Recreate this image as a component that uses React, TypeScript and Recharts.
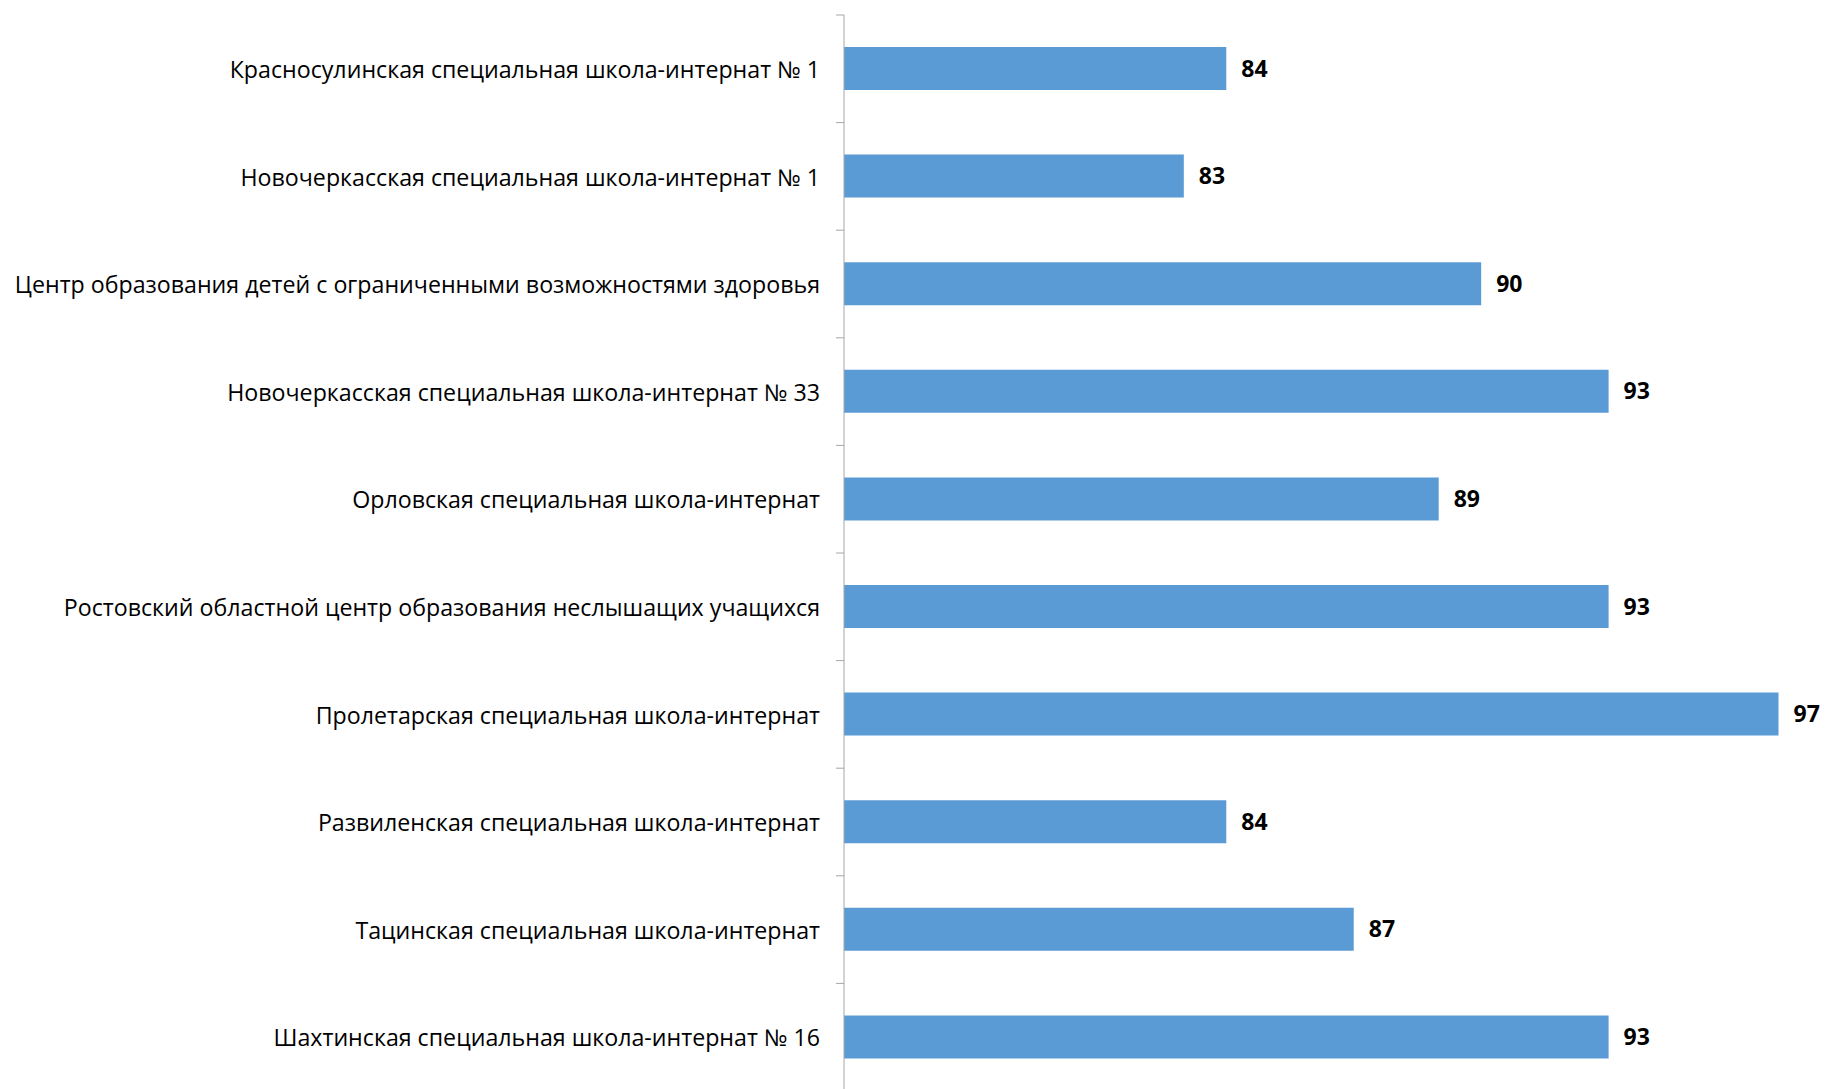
import React from "react";
import { BarChart, Bar, XAxis, YAxis, LabelList } from "recharts";

const categories = [
  "Красносулинская специальная школа-интернат № 1",
  "Новочеркасская специальная школа-интернат № 1",
  "Центр образования детей с ограниченными возможностями здоровья",
  "Новочеркасская специальная школа-интернат № 33",
  "Орловская специальная школа-интернат",
  "Ростовский областной центр образования неслышащих учащихся",
  "Пролетарская специальная школа-интернат",
  "Развиленская специальная школа-интернат",
  "Тацинская специальная школа-интернат",
  "Шахтинская специальная школа-интернат № 16",
];
const values = [84, 83, 90, 93, 89, 93, 97, 84, 87, 93];

const data = categories.map((name, i) => ({ name, value: values[i] }));

const TICK_MARGIN = 16;
const TICK_SIZE = 8;
const FONT = "'Open Sans', 'Noto Sans', sans-serif";

const CatTick = (props: any) => {
  const { x, y, payload } = props;
  const half = payload && typeof payload.offset === "number" ? payload.offset : 53.8;
  const axisX = x + TICK_MARGIN + TICK_SIZE;
  return (
    <g>
      <line x1={axisX - TICK_SIZE} x2={axisX} y1={y - half} y2={y - half} stroke="#A6A6A6" strokeWidth={1} />
      <text x={x} y={y} dy="0.4em" textAnchor="end" fill="#000" fontSize={23.2} fontFamily={FONT}>
        {payload.value}
      </text>
    </g>
  );
};

export default function App() {
  return (
    <div style={{ position: "absolute", left: 0, top: 0, width: 1827, height: 1089, overflow: "hidden", background: "#fff" }}>
      <BarChart
        width={1827}
        height={1091}
        data={data}
        layout="vertical"
        margin={{ top: 15, right: 6, bottom: 0, left: 0 }}
      >
        <XAxis type="number" domain={[75, 98]} hide allowDataOverflow />
        <YAxis
          type="category"
          dataKey="name"
          width={844}
          axisLine={{ stroke: "#A6A6A6", strokeWidth: 1 }}
          tickLine={false}
          tickSize={TICK_SIZE}
          tickMargin={TICK_MARGIN}
          tick={<CatTick />}
          interval={0}
        />
        <Bar dataKey="value" fill="#5B9BD5" barSize={43} isAnimationActive={false}>
          <LabelList
            dataKey="value"
            position="right"
            offset={15}
            fill="#000"
            fontSize={23}
            fontWeight="bold"
            fontFamily={FONT}
          />
        </Bar>
      </BarChart>
    </div>
  );
}
